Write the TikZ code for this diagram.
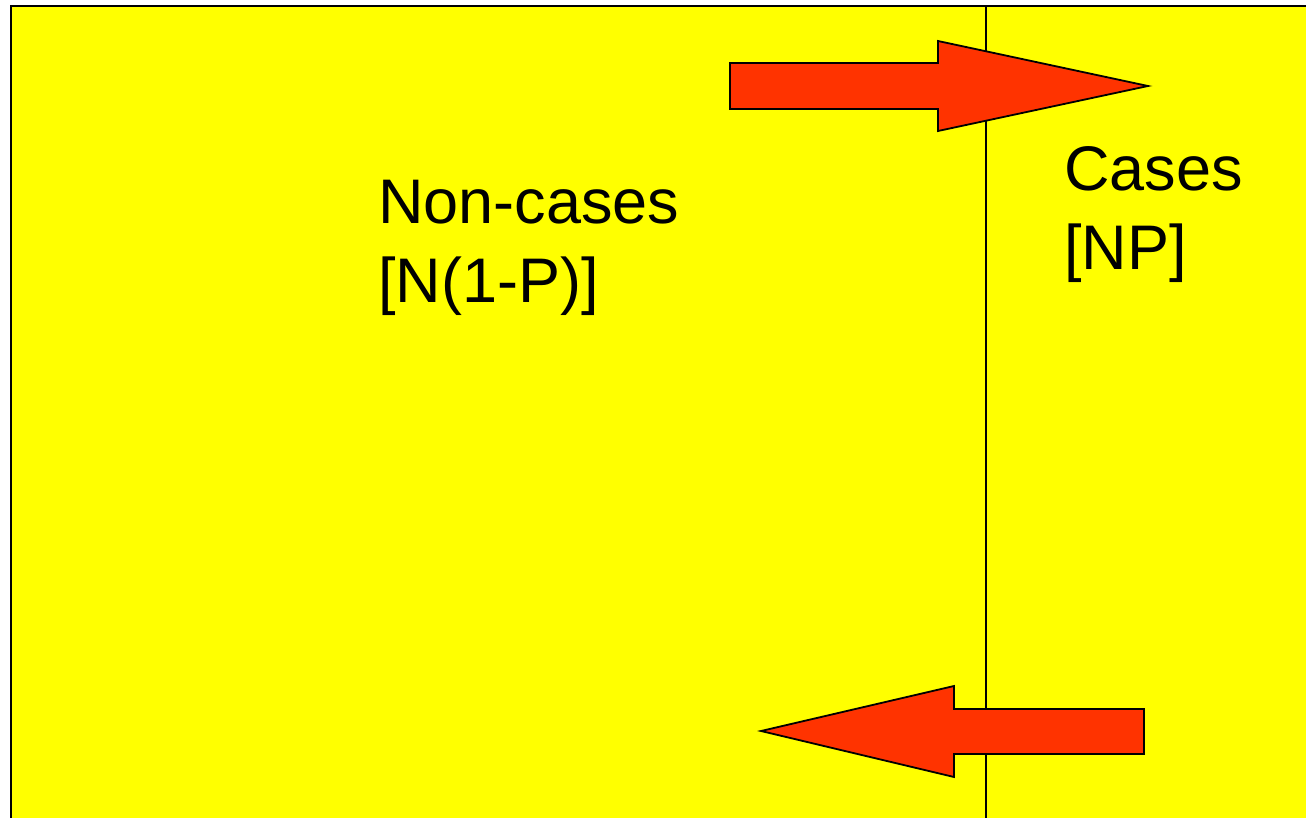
\documentclass[tikz,border=0pt]{standalone}
\usepackage{fontspec}
\setmainfont{Liberation Sans}
\definecolor{bgyellow}{HTML}{FFFF00}
\definecolor{arrowred}{HTML}{FF3300}
\tikzset{
  panel/.style={fill=bgyellow, draw=black, line width=2pt},
  divider/.style={draw=black, line width=1.3pt},
  bigarrow/.style={fill=arrowred, draw=black, line width=1.8pt, line join=miter},
  label/.style={anchor=north west, inner sep=0pt, align=left,
    font=\fontsize{63}{79}\selectfont}
}
\begin{document}
\begin{tikzpicture}[x=1pt,y=-1pt]
\useasboundingbox (0,0) rectangle (1306,818);
\fill[white] (0,0) rectangle (1306,818);
\path[panel] (11,6) rectangle (1330,840);
\coordinate (divtop) at (986,6);
\coordinate (divbot) at (986,830);
\draw[divider] (divtop) -- (divbot);
% top arrow (to the right)
\path[bigarrow] (730,63) -- (938,63) -- (938,41) -- (1148,86) -- (938,131) -- (938,109) -- (730,109) -- cycle;
% bottom arrow (to the left)
\path[bigarrow] (1144,709) -- (954,709) -- (954,686) -- (761,731) -- (954,777) -- (954,754) -- (1144,754) -- cycle;
\node[label] (noncases) at (378,180) {Non-cases\\{[}N(1-P)]};
\node[label] (cases) at (1064,146) {Cases\\{[}NP]};
\end{tikzpicture}
\end{document}
